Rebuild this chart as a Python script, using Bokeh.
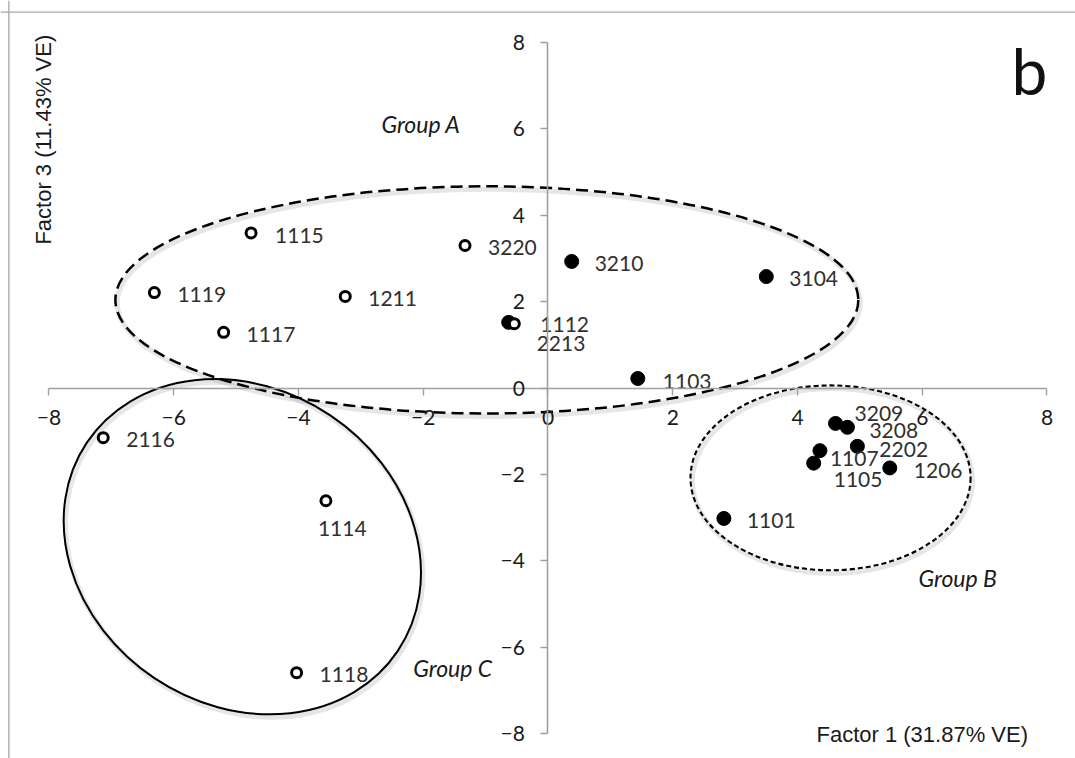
from bokeh.plotting import figure
from bokeh.models import LinearAxis, FixedTicker, Label, Span, ColumnDataSource, Range1d
from bokeh.core.properties import value
from bokeh.embed import file_html
from bokeh.resources import INLINE

# ---------------- data ----------------
TICKS = [-8, -6, -4, -2, 0, 2, 4, 6, 8]

open_ids = ["1115", "3220", "1119", "1211", "1117", "1112", "2116", "1114", "1118"]
open_f1 = [-4.76, -1.33, -6.31, -3.25, -5.20, -0.54, -7.13, -3.56, -4.03]
open_f3 = [3.59, 3.30, 2.21, 2.12, 1.29, 1.49, -1.15, -2.61, -6.59]

filled_ids = ["2213", "3210", "3104", "1103", "3209", "3208", "2202", "1107", "1105", "1206", "1101"]
filled_f1 = [-0.63, 0.38, 3.50, 1.44, 4.61, 4.80, 4.96, 4.36, 4.26, 5.48, 2.82]
filled_f3 = [1.52, 2.93, 2.58, 0.22, -0.82, -0.91, -1.35, -1.45, -1.74, -1.85, -3.02]

group_names = ["Group A", "Group B", "Group C"]
x_title = "Factor 1 (31.87% VE)"
y_title = "Factor 3 (11.43% VE)"
panel_letter = "b"

# group outlines (ellipse centre / size in data units, rotation)
ell_cx = [-0.98, 4.53, -4.90]
ell_cy = [2.04, -2.08, -3.675]
ell_w = [11.91, 4.49, 6.00]
ell_h = [5.26, 4.28, 7.32]
ell_angle = [0.0, 0.0, -0.59]

# ---------------- layout / style ----------------
default_off = (23, 2)
label_off = {
    "1115": (24, 3), "1112": (26, 1), "2213": (28, 21), "1114": (-8, 28),
    "3209": (19, -10), "3208": (22, 3), "2202": (22, 3), "1107": (10, 8),
    "1105": (20, 16), "1206": (24, 3), "1103": (25, 3),
}

X0, X1 = -8.777, 8.457
Y0, Y1 = -8.578, 8.972

p = figure(width=1075, height=758, x_range=Range1d(X0, X1), y_range=Range1d(Y0, Y1),
           output_backend="svg", toolbar_location=None, min_border=0,
           x_axis_type=None, y_axis_type=None)
p.outline_line_color = None
p.background_fill_color = "white"
p.border_fill_color = "white"

# chart border (left / top)
p.add_layout(Span(location=-8.643, dimension="height", line_color="#a6a6a6", line_width=1.3))
p.add_layout(Span(location=8.701, dimension="width", line_color="#a6a6a6", line_width=1.3))

AX_COL = "#a0a0a0"
TICK_FONT = "Lato"

def style_axis(ax, standoff):
    ax.ticker = FixedTicker(ticks=TICKS)
    ax.bounds = (TICKS[0], TICKS[-1])
    ax.axis_line_color = AX_COL
    ax.axis_line_width = 1.6
    ax.major_tick_line_color = AX_COL
    ax.major_tick_line_width = 1.4
    ax.major_tick_in = 0
    ax.major_tick_out = 7
    ax.minor_tick_line_color = None
    ax.major_label_text_font = TICK_FONT
    ax.major_label_text_font_size = "21px"
    ax.major_label_text_color = "#1a1a1a"
    ax.major_label_standoff = standoff

xaxis = LinearAxis(fixed_location=0)
style_axis(xaxis, 15)
p.add_layout(xaxis, "below")
yaxis = LinearAxis(fixed_location=0)
style_axis(yaxis, 16)
p.add_layout(yaxis, "left")

# group ellipses (soft shadow + outline)
dash_styles = ["12 6", "5 3", "solid"]
widths_line = [2.5, 2.1, 2.0]
for i in range(3):
    p.ellipse(x=[ell_cx[i] + 0.03], y=[ell_cy[i] - 0.07], width=[ell_w[i]], height=[ell_h[i]],
              angle=[ell_angle[i]], fill_color=None, line_color="#9a9a9a", line_alpha=0.25,
              line_width=5)
for i in range(3):
    p.ellipse(x=[ell_cx[i]], y=[ell_cy[i]], width=[ell_w[i]], height=[ell_h[i]],
              angle=[ell_angle[i]], fill_color=None, line_color="black",
              line_width=widths_line[i], line_dash=dash_styles[i])

# points
fsrc = ColumnDataSource(dict(x=filled_f1, y=filled_f3, name=filled_ids,
                             dx=[label_off.get(n, default_off)[0] for n in filled_ids],
                             dy=[label_off.get(n, default_off)[1] for n in filled_ids]))
osrc = ColumnDataSource(dict(x=open_f1, y=open_f3, name=open_ids,
                             dx=[label_off.get(n, default_off)[0] for n in open_ids],
                             dy=[label_off.get(n, default_off)[1] for n in open_ids]))

p.scatter("x", "y", source=fsrc, marker="circle", size=14, fill_color="black", line_color="black")
p.scatter("x", "y", source=osrc, marker="circle", size=10, fill_color="white",
          line_color="black", line_width=3)

for src in (fsrc, osrc):
    p.text("x", "y", text="name", source=src, x_offset="dx", y_offset="dy",
           text_font=value("Lato"), text_font_size="21px", text_color="#303030",
           text_align="left", text_baseline="middle")

# group names
gpos = [(-2.67, 6.12), (5.94, -4.39), (-2.16, -6.49)]
for name, (gx, gy) in zip(group_names, gpos):
    p.add_layout(Label(x=gx, y=gy, text=name, text_font="Lato", text_font_style="italic",
                       text_font_size="23px", text_color="#1a1a1a", text_baseline="middle",
                       text_align="left"))

# axis titles
p.add_layout(Label(x=6.0, y=-8.02, text=x_title, text_font="Liberation Sans",
                   text_font_size="22px", text_color="#1a1a1a", text_align="center",
                   text_baseline="middle"))
p.add_layout(Label(x=-8.09, y=5.75, text=y_title, text_font="Liberation Sans",
                   text_font_size="22px", text_color="#1a1a1a", text_align="center",
                   text_baseline="middle", angle=1.5708))

# panel letter
p.add_layout(Label(x=7.72, y=7.36, text=panel_letter, text_font="Lato",
                   text_font_size="64px", text_color="#111111", text_align="center",
                   text_baseline="middle"))

open("out.html", "w").write(file_html(p, INLINE))
